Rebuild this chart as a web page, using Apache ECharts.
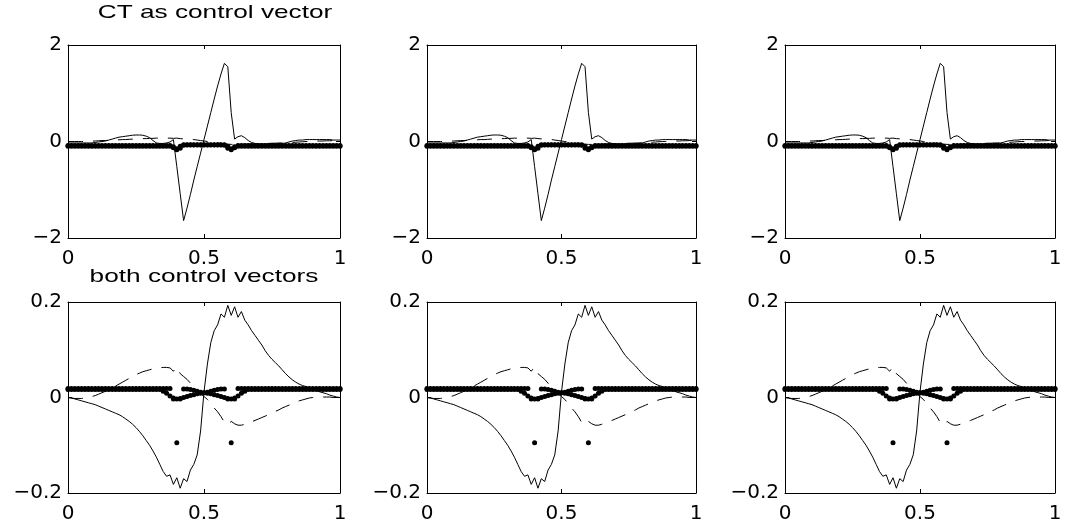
<!DOCTYPE html>
<html>
<head>
<meta charset="utf-8">
<title>Control vectors</title>
<script src="https://cdn.jsdelivr.net/npm/echarts@6/dist/echarts.min.js"></script>
<style>
  html, body { margin: 0; padding: 0; background: #fff; }
  #chart { width: 1065px; height: 527px; }
</style>
</head>
<body>
<div id="chart"></div>
<script>
// Sample positions along the normalised coordinate
const xs = [
  0, 0.0125, 0.025, 0.0375, 0.05, 0.0625, 0.075, 0.0875, 0.1, 0.1125,
  0.125, 0.1375, 0.15, 0.1625, 0.175, 0.1875, 0.2, 0.2125, 0.225, 0.2375,
  0.25, 0.2625, 0.275, 0.2875, 0.3, 0.3125, 0.325, 0.3375, 0.35, 0.3625,
  0.375, 0.3875, 0.4, 0.4125, 0.425, 0.4375, 0.45, 0.4625, 0.475, 0.4875,
  0.5, 0.5125, 0.525, 0.5375, 0.55, 0.5625, 0.575, 0.5875, 0.6, 0.6125,
  0.625, 0.6375, 0.65, 0.6625, 0.675, 0.6875, 0.7, 0.7125, 0.725, 0.7375,
  0.75, 0.7625, 0.775, 0.7875, 0.8, 0.8125, 0.825, 0.8375, 0.85, 0.8625,
  0.875, 0.8875, 0.9, 0.9125, 0.925, 0.9375, 0.95, 0.9625, 0.975, 0.9875, 1
];

// Row 1: CT as control vector
const ctSolid = [
  -0.03, -0.03, -0.03, -0.03, -0.03, -0.03, -0.03, -0.03, -0.02, -0.01,
  0.0, 0.01, 0.03, 0.05, 0.07, 0.09, 0.1, 0.11, 0.12, 0.13,
  0.135, 0.135, 0.13, 0.11, 0.08, 0.02, -0.03, -0.04, -0.04, -0.03,
  -0.01, 0.04, -0.52, -1.08, -1.64, -1.38, -1.1, -0.8, -0.52, -0.24,
  0.04, 0.32, 0.6, 0.88, 1.15, 1.4, 1.62, 1.55, 0.6, 0.05,
  0.1, 0.12, 0.08, 0.02, -0.02, -0.04, -0.05, -0.05, -0.05, -0.05,
  -0.05, -0.05, -0.05, -0.04, -0.03, -0.01, 0.01, 0.02, 0.03, 0.03,
  0.04, 0.04, 0.04, 0.04, 0.04, 0.04, 0.04, 0.04, 0.03, 0.03, 0.03
];
const ctDashed = [
  0.0, 0.0, 0.0, 0.0, 0.0, 0.0, 0.01, 0.01, 0.01, 0.015,
  0.02, 0.02, 0.025, 0.03, 0.03, 0.035, 0.04, 0.04, 0.045, 0.05,
  0.05, 0.055, 0.06, 0.06, 0.065, 0.065, 0.07, 0.07, 0.07, 0.07,
  0.07, 0.065, 0.07, 0.06, 0.055, 0.05, 0.045, 0.04, 0.03, 0.02,
  0.01, 0.0, -0.01, -0.02, -0.03, -0.04, -0.05, -0.055, -0.06, -0.06,
  -0.06, -0.06, -0.055, -0.055, -0.05, -0.05, -0.045, -0.045, -0.04, -0.04,
  -0.035, -0.035, -0.03, -0.03, -0.025, -0.02, -0.02, -0.015, -0.01, -0.005,
  0.0, 0.0, 0.005, 0.01, 0.01, 0.01, 0.015, 0.015, 0.02, 0.02, 0.02
];
const ctDotsA = [
  -0.1, -0.1, -0.1, -0.1, -0.1, -0.1, -0.1, -0.1, -0.1, -0.1,
  -0.1, -0.1, -0.1, -0.1, -0.1, -0.1, -0.1, -0.1, -0.1, -0.1,
  -0.1, -0.1, -0.1, -0.1, -0.1, -0.1, -0.1, -0.1, -0.1, -0.1,
  -0.1, -0.13, -0.17, -0.14, -0.08, -0.07, -0.07, -0.07, -0.07, -0.07,
  -0.07, -0.07, -0.07, -0.07, -0.07, -0.07, -0.08, -0.14, -0.17, -0.13,
  -0.1, -0.1, -0.1, -0.1, -0.1, -0.1, -0.1, -0.1, -0.1, -0.1,
  -0.1, -0.1, -0.1, -0.1, -0.1, -0.1, -0.1, -0.1, -0.1, -0.1,
  -0.1, -0.1, -0.1, -0.1, -0.1, -0.1, -0.1, -0.1, -0.1, -0.1, -0.1
];
const ctDotsB = [
  -0.085, -0.085, -0.085, -0.085, -0.085, -0.085, -0.085, -0.085, -0.085, -0.085,
  -0.085, -0.085, -0.085, -0.085, -0.085, -0.085, -0.085, -0.085, -0.085, -0.085,
  -0.085, -0.085, -0.085, -0.085, -0.085, -0.085, -0.085, -0.085, -0.085, -0.085,
  -0.085, -0.11, -0.15, -0.1, -0.065, -0.065, -0.065, -0.065, -0.065, -0.065,
  -0.065, -0.065, -0.065, -0.065, -0.065, -0.065, -0.065, -0.1, -0.15, -0.11,
  -0.085, -0.085, -0.085, -0.085, -0.085, -0.085, -0.085, -0.085, -0.085, -0.085,
  -0.085, -0.085, -0.085, -0.085, -0.085, -0.085, -0.085, -0.085, -0.085, -0.085,
  -0.085, -0.085, -0.085, -0.085, -0.085, -0.085, -0.085, -0.085, -0.085, -0.085, -0.085
];

// Row 2: both control vectors
const bothSolid = [
  0.0, -0.001, -0.003, -0.005, -0.007, -0.009, -0.011, -0.013, -0.015, -0.018,
  -0.021, -0.024, -0.027, -0.03, -0.033, -0.036, -0.04, -0.045, -0.05, -0.056,
  -0.063, -0.071, -0.08, -0.09, -0.1, -0.112, -0.125, -0.14, -0.155, -0.165,
  -0.162, -0.182, -0.168, -0.19, -0.17, -0.176, -0.152, -0.14, -0.12, -0.07,
  0.012, 0.07, 0.115, 0.14, 0.152, 0.175, 0.168, 0.193, 0.172, 0.19,
  0.168, 0.18, 0.162, 0.152, 0.14, 0.13, 0.12, 0.11, 0.098, 0.088,
  0.08, 0.073, 0.066, 0.058, 0.05, 0.043, 0.037, 0.032, 0.028, 0.025,
  0.023, 0.02, 0.017, 0.015, 0.012, 0.01, 0.008, 0.005, 0.003, 0.001, 0.0
];
const bothDashed = [
  0.0, -0.001, -0.002, -0.002, -0.002, -0.001, 0.0, 0.002, 0.004, 0.007,
  0.01, 0.013, 0.016, 0.02, 0.024, 0.028, 0.032, 0.036, 0.04, 0.044,
  0.048, 0.051, 0.054, 0.056, 0.058, 0.06, 0.061, 0.062, 0.063, 0.063,
  0.062, 0.055, 0.064, 0.05, 0.044, 0.038, 0.03, 0.022, 0.015, 0.008,
  0.002, -0.004, -0.013, -0.022, -0.03, -0.04, -0.052, -0.057, -0.05, -0.055,
  -0.058, -0.058, -0.056, -0.054, -0.051, -0.048, -0.045, -0.042, -0.039, -0.036,
  -0.032, -0.029, -0.026, -0.022, -0.019, -0.016, -0.013, -0.01, -0.007, -0.005,
  -0.003, -0.001, 0.0, 0.001, 0.001, 0.001, 0.001, 0.001, 0.0, 0.0, 0.0
];
const bothDotsA = [
  0.019, 0.019, 0.019, 0.019, 0.019, 0.019, 0.019, 0.019, 0.019, 0.019,
  0.019, 0.019, 0.019, 0.019, 0.019, 0.019, 0.019, 0.019, 0.019, 0.019,
  0.019, 0.019, 0.019, 0.019, 0.019, 0.019, 0.019, 0.019, 0.019, 0.019,
  0.019, -0.001, -0.095, -0.003, 0.018, 0.018, 0.017, 0.015, 0.013, 0.011,
  0.01, 0.011, 0.013, 0.015, 0.017, 0.018, 0.018, -0.003, -0.095, -0.001,
  0.019, 0.019, 0.019, 0.019, 0.019, 0.019, 0.019, 0.019, 0.019, 0.019,
  0.019, 0.019, 0.019, 0.019, 0.019, 0.019, 0.019, 0.019, 0.019, 0.019,
  0.019, 0.019, 0.019, 0.019, 0.019, 0.019, 0.019, 0.019, 0.019, 0.019, 0.019
];
const bothDotsB = [
  0.017, 0.017, 0.017, 0.017, 0.017, 0.017, 0.017, 0.017, 0.017, 0.017,
  0.017, 0.017, 0.017, 0.017, 0.017, 0.017, 0.017, 0.017, 0.017, 0.017,
  0.017, 0.017, 0.017, 0.017, 0.017, 0.017, 0.017, 0.017, 0.013, 0.009,
  0.003, -0.003, -0.003, -0.002, 0.0, 0.002, 0.004, 0.006, 0.008, 0.009,
  0.01, 0.009, 0.008, 0.006, 0.004, 0.002, 0.0, -0.002, -0.003, -0.003,
  0.003, 0.009, 0.013, 0.017, 0.017, 0.017, 0.017, 0.017, 0.017, 0.017,
  0.017, 0.017, 0.017, 0.017, 0.017, 0.017, 0.017, 0.017, 0.017, 0.017,
  0.017, 0.017, 0.017, 0.017, 0.017, 0.017, 0.017, 0.017, 0.017, 0.017, 0.017
];

// Axis ranges and tick steps per row
const xRange = { min: 0, max: 1, interval: 0.5 };
const yRanges = [
  { min: -2, max: 2, interval: 2 },
  { min: -0.2, max: 0.2, interval: 0.2 }
];
const rowTitles = ['CT as control vector', 'both control vectors'];

const rows = [
  { solid: ctSolid, dashed: ctDashed, dotsA: ctDotsA, dotsB: ctDotsB },
  { solid: bothSolid, dashed: bothDashed, dotsA: bothDotsA, dotsB: bothDotsB }
];

// Panel frames (pixels)
const colLefts = [68, 427, 785];
const colWidths = [272, 269, 270];
const rowTops = [45, 302];
const rowHeights = [193, 191];

const FONT = 'DejaVu Sans';
const fmt = v => {
  const s = String(Number(v.toFixed(3)));
  return s.replace('-', '\u2212');
};

function pairs(ys) {
  return xs.map((x, i) => [x, ys[i]]);
}

const grid = [], xAxis = [], yAxis = [], series = [];
const black = '#000';

function axisCommon(showLabel, margin) {
  return {
    axisLine: { show: true, onZero: false, lineStyle: { color: black, width: 1 } },
    axisTick: { show: true, inside: true, length: 4, lineStyle: { color: black, width: 1 } },
    axisLabel: {
      show: showLabel, margin: margin, color: black, fontSize: 20, fontFamily: FONT,
      showMinLabel: true, showMaxLabel: true, formatter: fmt
    },
    splitLine: { show: false }
  };
}

let g = 0;
for (let r = 0; r < 2; r++) {
  for (let c = 0; c < 3; c++) {
    grid.push({ left: colLefts[c], top: rowTops[r], width: colWidths[c], height: rowHeights[r], containLabel: false });
    xAxis.push(Object.assign({ type: 'value', gridIndex: g, position: 'bottom' }, xRange, axisCommon(true, 11)));
    xAxis.push(Object.assign({ type: 'value', gridIndex: g, position: 'top' }, xRange, axisCommon(false, 8)));
    yAxis.push(Object.assign({ type: 'value', gridIndex: g, position: 'left' }, yRanges[r], axisCommon(true, 6)));
    yAxis.push(Object.assign({ type: 'value', gridIndex: g, position: 'right' }, yRanges[r], axisCommon(false, 8)));

    const d = rows[r];
    const xi = 2 * g, yi = 2 * g;
    series.push({
      type: 'line', xAxisIndex: xi, yAxisIndex: yi, data: pairs(d.solid),
      showSymbol: false, symbol: 'none', silent: true,
      lineStyle: { color: black, width: 1 }
    });
    series.push({
      type: 'line', xAxisIndex: xi, yAxisIndex: yi, data: pairs(d.dashed),
      showSymbol: false, symbol: 'none', silent: true,
      lineStyle: { color: black, width: 1, type: [15, 10] }
    });
    series.push({
      type: 'scatter', xAxisIndex: xi, yAxisIndex: yi, data: pairs(d.dotsA),
      symbol: 'circle', symbolSize: 5, silent: true, itemStyle: { color: black, opacity: 1 }
    });
    series.push({
      type: 'scatter', xAxisIndex: xi, yAxisIndex: yi, data: pairs(d.dotsB),
      symbol: 'circle', symbolSize: 5, silent: true, itemStyle: { color: black, opacity: 1 }
    });
    g++;
  }
}

const chart = echarts.init(document.getElementById('chart'), null, { renderer: 'canvas' });
chart.setOption({
  backgroundColor: '#fff',
  animation: false,
  grid, xAxis, yAxis, series,
  graphic: [
    {
      type: 'text', x: 215, y: 13, scaleX: 1.38, scaleY: 1,
      style: { text: rowTitles[0], fontSize: 19, fontFamily: 'Liberation Sans', fill: black, align: 'center', verticalAlign: 'middle' }
    },
    {
      type: 'text', x: 204, y: 277, scaleX: 1.38, scaleY: 1,
      style: { text: rowTitles[1], fontSize: 19, fontFamily: 'Liberation Sans', fill: black, align: 'center', verticalAlign: 'middle' }
    }
  ]
});
</script>
</body>
</html>
